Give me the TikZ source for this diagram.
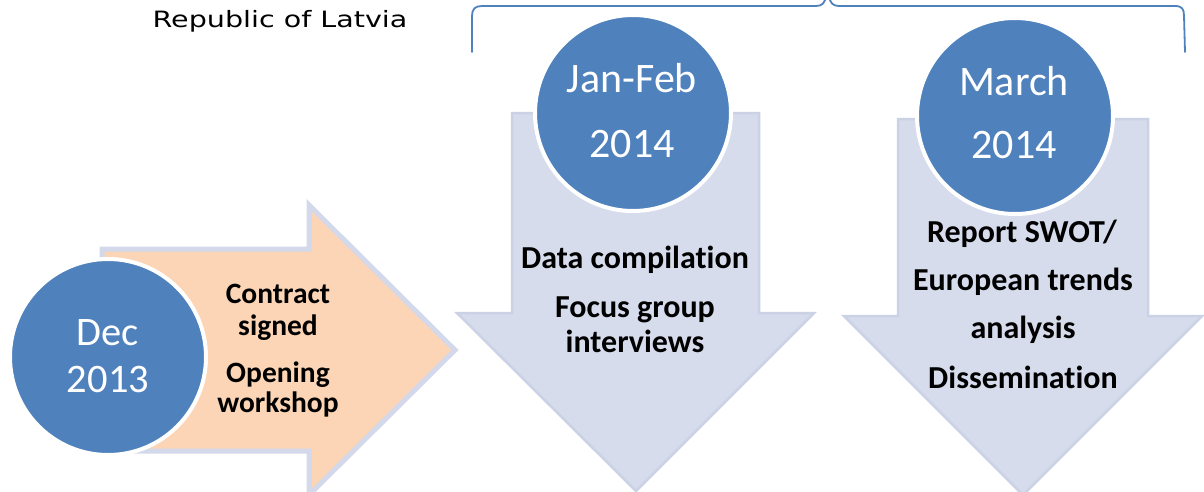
\documentclass[tikz,border=0pt]{standalone}
\usepackage{fontspec}
\usepackage{graphicx}
\setmainfont{Carlito}[Ligatures=NoCommon]
\newfontfamily\logofont{DejaVu Sans}
\definecolor{circblue}{HTML}{4F81BD}
\definecolor{arrgray}{HTML}{D6DCEC}
\definecolor{arredge}{HTML}{CBD2E6}
\definecolor{peach}{HTML}{FBD5B5}
\definecolor{peachedge}{HTML}{D3D9EA}
\definecolor{bracecol}{HTML}{4F81BD}
\tikzset{
  datecircle/.style={circle, inner sep=0pt, minimum size=196pt, fill=circblue, draw=white, line width=4pt},
  downarrow/.style={fill=arrgray, draw=arredge, line width=2.5pt, line join=miter},
  rightarrow/.style={fill=peach, draw=peachedge, line width=5pt, line join=miter},
  datetext/.style={inner sep=0pt, anchor=base, text=white, font=\fontsize{42}{42}\selectfont},
  bodytext/.style={inner sep=0pt, anchor=base, text=black, font=\bfseries\fontsize{32}{32}\selectfont},
  smalltext/.style={inner sep=0pt, anchor=base, text=black, font=\bfseries\fontsize{29.5}{29.5}\selectfont},
  bracestyle/.style={draw=bracecol, line width=1.8pt, line cap=round}
}
\begin{document}
\begin{tikzpicture}[x=1pt,y=-1pt]
\useasboundingbox (0,0) rectangle (1204,491);

% logo text
\node[inner sep=0pt, anchor=base] (logo) at (280,27)
  {\logofont\fontsize{22.5}{22.5}\selectfont\scalebox{1.27}[1]{Republic of Latvia}};

% brace
\draw[bracestyle] (472,52) -- (472,16) .. controls (472,9) and (475,6) .. (482,6)
  -- (816,6) .. controls (822,6) and (825,3) .. (826,-4);
\draw[bracestyle] (829,-4) .. controls (830,3) and (833,6) .. (839,6)
  -- (1175,6) .. controls (1182,6) and (1184,9) .. (1184,16) -- (1185,52);

% down arrow 1
\draw[downarrow] (512,113) -- (759,113) -- (759,313) -- (814,313) -- (636,491)
  -- (457,313) -- (512,313) -- cycle;
% down arrow 2
\draw[downarrow] (898,119) -- (1148,119) -- (1148,316) -- (1202,316) -- (1023,495)
  -- (844,316) -- (898,316) -- cycle;

% right arrow
\draw[rightarrow] (102,249) -- (309,249) -- (309,205) -- (455,350) -- (309,495)
  -- (309,451) -- (102,451) -- cycle;

% circles
\node[datecircle] (dec) at (108,357) {};
\node[datecircle] (janfeb) at (633,113) {};
\node[datecircle] (march) at (1015,116) {};

% circle texts
\node[datetext, font=\fontsize{40.5}{40.5}\selectfont] (dec1) at (108,345) {Dec};
\node[datetext, font=\fontsize{40.5}{40.5}\selectfont] (dec2) at (108,392) {2013};
\node[datetext] (jf1) at (632,92) {Jan-Feb};
\node[datetext] (jf2) at (632,157) {2014};
\node[datetext] (mar1) at (1014,95) {March};
\node[datetext] (mar2) at (1014,158) {2014};

% contract block
\node[smalltext] (c1) at (278,303) {Contract};
\node[smalltext] (c2) at (278,335) {signed};
\node[smalltext] (c3) at (278,382) {Opening};
\node[smalltext] (c4) at (278,412) {workshop};

% data block
\node[bodytext] (d1) at (635,268) {Data compilation};
\node[bodytext] (d2) at (635,317) {Focus group};
\node[bodytext] (d3) at (635,352) {interviews};

% report block
\node[bodytext] (r1) at (1022,242) {Report SWOT/};
\node[bodytext] (r2) at (1023,290) {European trends};
\node[bodytext] (r3) at (1023,338) {analysis};
\node[bodytext] (r4) at (1023,388) {Dissemination};
\end{tikzpicture}
\end{document}
